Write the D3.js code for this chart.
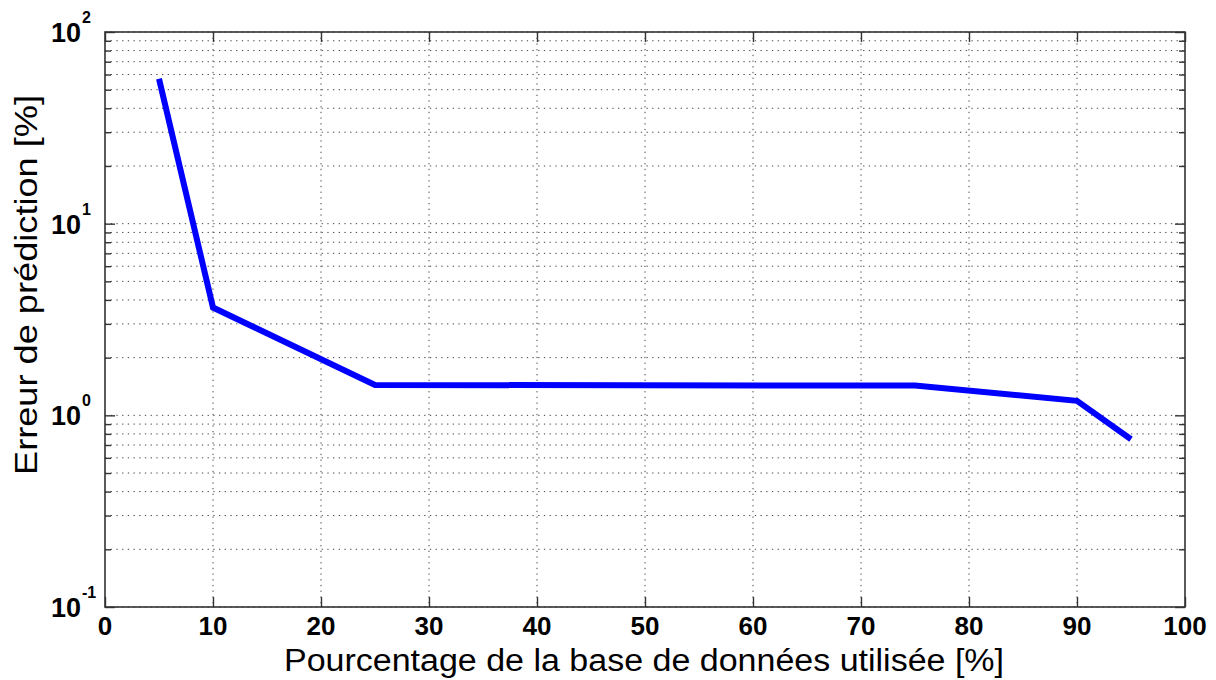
<!DOCTYPE html>
<html><head><meta charset="utf-8">
<script src="https://cdn.jsdelivr.net/npm/d3@7"></script>
<style>body{margin:0;background:#fff}svg{display:block}</style>
</head><body>
<svg id="c" width="1216" height="680"></svg>
<script>
const xValues = [5, 10, 25, 75, 90, 95];
const errValues = [57, 3.65, 1.44, 1.43, 1.19, 0.75];
const xTicks = [0, 10, 20, 30, 40, 50, 60, 70, 80, 90, 100];
const yMajor = [0.1, 1, 10, 100];
const yExponents = ["-1", "0", "1", "2"];
const xLabel = "Pourcentage de la base de données utilisée [%]";
const yLabel = "Erreur de prédiction [%]";

const svg = d3.select("#c");
const L = 105, R = 1185, T = 32, B = 607;
const x = d3.scaleLinear().domain([0, 100]).range([L, R]);
const y = d3.scaleLog().domain([0.1, 100]).range([B, T]);
const font = "Arial, 'Liberation Sans', sans-serif";
const gridColor = "#444";

// grid
const g = svg.append("g");
g.selectAll("line.gy").data(y.ticks()).enter().append("line")
  .attr("x1", L).attr("x2", R).attr("y1", d => y(d)).attr("y2", d => y(d))
  .attr("stroke", gridColor).attr("stroke-width", 1).attr("stroke-dasharray", "1.3,4.4");
g.selectAll("line.gx").data(xTicks.slice(1, -1)).enter().append("line")
  .attr("y1", T).attr("y2", B).attr("x1", d => x(d)).attr("x2", d => x(d))
  .attr("stroke", gridColor).attr("stroke-width", 1).attr("stroke-dasharray", "1.3,4.4");

// axes with inward ticks
const isMajor = d => Math.abs(Math.log10(d) - Math.round(Math.log10(d))) < 1e-9;
function styleAxis(sel) {
  sel.select(".domain").remove();
  sel.selectAll("line").attr("stroke", "#333").attr("stroke-width", 1.4);
  sel.selectAll("text").remove();
}
svg.append("g").attr("transform", `translate(0,${B})`)
  .call(d3.axisBottom(x).tickValues(xTicks).tickSize(-10)).call(styleAxis);
svg.append("g").attr("transform", `translate(0,${T})`)
  .call(d3.axisTop(x).tickValues(xTicks).tickSize(-10)).call(styleAxis);
const yl = svg.append("g").attr("transform", `translate(${L},0)`)
  .call(d3.axisLeft(y).tickValues(y.ticks()).tickSize(-10)).call(styleAxis);
yl.selectAll(".tick line").attr("x2", d => isMajor(d) ? 10 : 6);
const yr = svg.append("g").attr("transform", `translate(${R},0)`)
  .call(d3.axisRight(y).tickValues(y.ticks()).tickSize(-10)).call(styleAxis);
yr.selectAll(".tick line").attr("x2", d => isMajor(d) ? -10 : -6);

// frame
svg.append("rect").attr("x", L).attr("y", T).attr("width", R - L).attr("height", B - T)
  .attr("fill", "none").attr("stroke", "#333").attr("stroke-width", 1.6);

// line
svg.append("path").datum(xValues.map((v, i) => [v, errValues[i]]))
  .attr("d", d3.line().x(d => x(d[0])).y(d => y(d[1])))
  .attr("fill", "none").attr("stroke", "#0000ff").attr("stroke-width", 6)
  .attr("stroke-linejoin", "miter");

// x tick labels
svg.selectAll("text.xt").data(xTicks).enter().append("text")
  .attr("x", d => x(d)).attr("y", 635).attr("text-anchor", "middle")
  .attr("font-family", font).attr("font-weight", "bold").attr("font-size", 26)
  .attr("fill", "#000").text(d => d);

// y tick labels
yMajor.forEach((v, i) => {
  svg.append("text").attr("x", 81).attr("y", y(v) + 10)
    .attr("text-anchor", "end").attr("font-family", font).attr("font-weight", "bold")
    .attr("font-size", 27).attr("fill", "#000").text("10");
  svg.append("text").attr("x", 82).attr("y", y(v) - 9)
    .attr("text-anchor", "start").attr("font-family", font).attr("font-weight", "bold")
    .attr("font-size", 16).attr("fill", "#000").text(yExponents[i]);
});

// axis labels
svg.append("text").attr("x", 644).attr("y", 671).attr("text-anchor", "middle")
  .attr("font-family", font).attr("font-size", 31).attr("fill", "#000")
  .attr("textLength", 720).attr("lengthAdjust", "spacingAndGlyphs").text(xLabel);
svg.append("text").attr("transform", "translate(37,285) rotate(-90)").attr("text-anchor", "middle")
  .attr("font-family", font).attr("font-size", 32).attr("fill", "#000")
  .attr("textLength", 380).attr("lengthAdjust", "spacingAndGlyphs").text(yLabel);
</script>
</body></html>
